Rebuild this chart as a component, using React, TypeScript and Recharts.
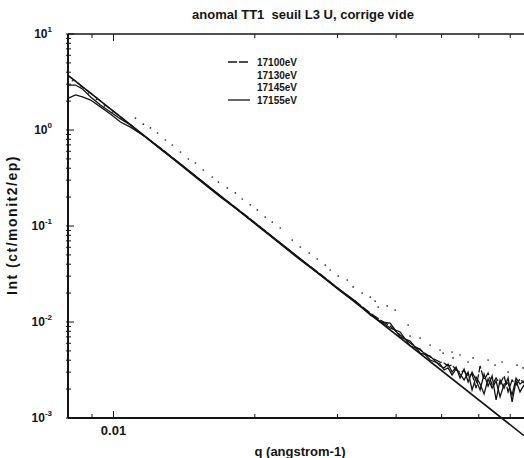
import React from "react";
import {
  ComposedChart,
  Line,
  Scatter,
  XAxis,
  YAxis,
  ReferenceLine,
} from "recharts";

// q grid shared by the three line series (angstrom-1)
const qGrid = [
  0.00802, 0.0083, 0.00859, 0.00894, 0.00938, 0.00985, 0.01035, 0.01087, 0.0117, 0.01259,
  0.01389, 0.01531, 0.01689, 0.01863, 0.02055, 0.02266, 0.025, 0.02757, 0.03041, 0.03273,
  0.03523, 0.037, 0.03885, 0.0408, 0.04284, 0.045, 0.04726, 0.04962,
  0.05061, 0.05161, 0.05264, 0.05368, 0.05474, 0.05583, 0.05694, 0.05806, 0.05921, 0.06039,
  0.06158, 0.0628, 0.06405, 0.06532, 0.06661, 0.06793, 0.06928, 0.07065, 0.07205, 0.07345,
  0.0749,
];

const i17100 = [
  3.65, 3.24, 2.8, 2.43, 2.0, 1.65, 1.37, 1.13, 0.845, 0.649,
  0.442, 0.301, 0.205, 0.143, 0.0976, 0.0665, 0.0453, 0.0316, 0.0215, 0.0165,
  0.0124, 0.0105, 0.00909, 0.00732, 0.00604, 0.00511, 0.00432, 0.00383,
  0.00374, 0.00348, 0.00356, 0.00316, 0.00301, 0.00309, 0.00274, 0.00287, 0.00205, 0.00348,
  0.00249, 0.00294, 0.00221, 0.00261, 0.00226, 0.00274, 0.00187, 0.00249, 0.00221, 0.00255,
  0.00232,
];

const i17145 = [
  2.94, 2.94, 2.67, 2.21, 1.82, 1.54, 1.3, 1.13, 0.845, 0.634,
  0.432, 0.294, 0.2, 0.14, 0.0953, 0.0649, 0.0442, 0.0309, 0.021, 0.0162,
  0.0121, 0.01, 0.00976, 0.00698, 0.00634, 0.00475, 0.00442, 0.00348,
  0.00332, 0.00365, 0.00301, 0.0034, 0.00261, 0.00324, 0.00237, 0.00301, 0.00249, 0.00196,
  0.00287, 0.00215, 0.00274, 0.00154, 0.00249, 0.00205, 0.00261, 0.00147, 0.00243, 0.00187,
  0.00221,
];

const i17155 = [
  2.15, 2.32, 2.21, 2.05, 1.74, 1.47, 1.21, 1.07, 0.845, 0.634,
  0.442, 0.301, 0.205, 0.14, 0.0953, 0.0665, 0.0453, 0.0309, 0.0215, 0.0165,
  0.0118, 0.0102, 0.00866, 0.00787, 0.00562, 0.00523, 0.00402, 0.00365,
  0.00316, 0.00332, 0.00281, 0.00324, 0.00287, 0.00249, 0.00301, 0.00196, 0.00267, 0.00226,
  0.00178, 0.00255, 0.00205, 0.00243, 0.00166, 0.00226, 0.00232, 0.00174, 0.00261, 0.00226,
  0.00243,
];

// 17130eV is plotted as dots
const q17130 = [
  0.00818, 0.00851, 0.00885, 0.0092, 0.00957, 0.00995, 0.01035, 0.01076, 0.01114, 0.01158,
  0.01199, 0.01241, 0.0129, 0.01335, 0.01389, 0.01444, 0.01495, 0.01554, 0.01624, 0.01673,
  0.01748, 0.01818, 0.01881, 0.01956, 0.02025, 0.02105, 0.02179, 0.02266, 0.02403, 0.025,
  0.02612, 0.02716, 0.02825, 0.02895, 0.03011, 0.03147, 0.0324, 0.03386, 0.03523, 0.03609,
  0.03663, 0.03828, 0.03981, 0.04243, 0.04284, 0.045, 0.04726, 0.04962, 0.05038, 0.05265,
  0.05288, 0.05474, 0.05694, 0.05834, 0.06039, 0.0628, 0.06499, 0.06725, 0.06928, 0.07239,
  0.07454,
];
const i17130 = [
  3.27, 2.8, 2.43, 2.08, 1.78, 1.54, 1.33, 1.18, 1.33, 1.15,
  1.05, 0.931, 0.787, 0.698, 0.59, 0.499, 0.453, 0.383, 0.324, 0.287,
  0.249, 0.221, 0.191, 0.166, 0.147, 0.124, 0.11, 0.0953, 0.0715, 0.0604,
  0.0523, 0.0453, 0.0392, 0.0348, 0.0301, 0.0274, 0.0232, 0.02, 0.0182, 0.0165,
  0.0143, 0.0147, 0.0133, 0.00931, 0.00715, 0.00681, 0.00576, 0.00511, 0.00475, 0.00487,
  0.00422, 0.00453, 0.00383, 0.00422, 0.0034, 0.00402, 0.00356, 0.00383, 0.00301, 0.00356,
  0.00332,
];

// straight power-law fit
const fitQ = [0.008, 0.0749];
const fitI = [3.71, 0.000654];

const xTicks = [0.009, 0.01, 0.02, 0.03, 0.04, 0.05, 0.06, 0.07];
const yDecades = [-3, -2, -1, 0];
const yTicks = [
  ...yDecades.flatMap((d) => [1, 2, 3, 4, 5, 6, 7, 8, 9].map((m) => m * Math.pow(10, d))),
  10,
];

const X_DOMAIN = [0.008, 0.0749];
const Y_DOMAIN = [Math.pow(10, -3.25), 10];
const PLOT_H = 408;
const DECADE = PLOT_H / 4.25;
const FRAME_GAP = DECADE * 0.25;
const INK = "#141414";
const FONT = '"Liberation Sans", Arial, Helvetica, sans-serif';

const toPoints = (qs: number[], is: number[]) => qs.map((q, k) => ({ q, I: is[k] }));

const series = [
  { name: "17100eV", data: toPoints(qGrid, i17100), kind: "line", dash: "9 2", sample: true },
  { name: "17130eV", data: toPoints(q17130, i17130), kind: "dots", dash: "", sample: false },
  { name: "17145eV", data: toPoints(qGrid, i17145), kind: "line", dash: "", sample: false },
  { name: "17155eV", data: toPoints(qGrid, i17155), kind: "line", dash: "", sample: true },
];

function YTick(props: any) {
  const { x, y, payload } = props;
  const v = payload.value;
  const lg = Math.log10(v);
  const exp = Math.round(lg);
  const major = Math.abs(lg - exp) < 1e-6;
  return (
    <g>
      <line x1={x - 2} x2={x + (major ? 6 : 3)} y1={y} y2={y} stroke={INK} strokeWidth={1} />
      {major && (
        <text
          x={x - 16}
          y={y + 4}
          textAnchor="end"
          fontFamily={FONT}
          fontWeight="bold"
          fontSize={12}
          fill={INK}
        >
          10
          <tspan dy={-6} fontSize={8}>
            {exp}
          </tspan>
        </text>
      )}
    </g>
  );
}

function XTick(props: any) {
  const { x, y, payload } = props;
  const base = y - FRAME_GAP;
  const top = base - DECADE * 4;
  const major = payload.value === 0.01;
  const len = major ? 7 : 4;
  return (
    <g>
      <line x1={x} x2={x} y1={base} y2={base - len} stroke={INK} strokeWidth={1} />
      <line x1={x} x2={x} y1={top} y2={top + len} stroke={INK} strokeWidth={1} />
      {major && (
        <text
          x={x}
          y={base + 17}
          textAnchor="middle"
          fontFamily={FONT}
          fontWeight="bold"
          fontSize={13}
          fill={INK}
        >
          0.01
        </text>
      )}
    </g>
  );
}

const Dot = (p: any) => <circle cx={p.cx} cy={p.cy} r={0.85} fill="#2a2a2a" />;

export default function App() {
  return (
    <div
      style={{
        position: "absolute",
        left: 0,
        top: 0,
        width: 524,
        height: 458,
        background: "#fff",
        fontFamily: FONT,
        color: INK,
        overflow: "hidden",
      }}
    >
      <ComposedChart width={524} height={458} margin={{ top: 34, right: 0, bottom: 0, left: 0 }}>
        <XAxis
          dataKey="q"
          type="number"
          scale="log"
          domain={X_DOMAIN}
          allowDataOverflow
          ticks={xTicks}
          interval={0}
          tickSize={0}
          tickMargin={0}
          axisLine={false}
          tickLine={false}
          height={16}
          tick={<XTick />}
        />
        <YAxis
          dataKey="I"
          type="number"
          scale="log"
          domain={Y_DOMAIN}
          allowDataOverflow
          ticks={yTicks}
          interval={0}
          tickSize={0}
          tickMargin={0}
          axisLine={false}
          tickLine={false}
          width={68}
          tick={<YTick />}
        />
        <ReferenceLine y={10} stroke={INK} strokeWidth={1.5} ifOverflow="visible" />
        <ReferenceLine y={0.001} stroke={INK} strokeWidth={2} ifOverflow="visible" />
        <ReferenceLine
          segment={[
            { x: X_DOMAIN[0], y: 0.001 },
            { x: X_DOMAIN[0], y: 10 },
          ]}
          stroke={INK}
          strokeWidth={2}
          ifOverflow="visible"
        />
        <Line
          data={toPoints(fitQ, fitI)}
          dataKey="I"
          stroke={INK}
          strokeWidth={1.6}
          dot={false}
          isAnimationActive={false}
        />
        {series.map((s) =>
          s.kind === "dots" ? (
            <Scatter key={s.name} name={s.name} data={s.data} shape={Dot} isAnimationActive={false} />
          ) : (
            <Line
              key={s.name}
              name={s.name}
              data={s.data}
              dataKey="I"
              stroke={INK}
              strokeWidth={1.3}
              strokeDasharray={s.dash || undefined}
              dot={false}
              isAnimationActive={false}
            />
          )
        )}
      </ComposedChart>

      <div
        style={{
          position: "absolute",
          left: 153,
          top: 8,
          width: 300,
          textAlign: "center",
          fontSize: 13,
          fontWeight: "bold",
          lineHeight: "14px",
          whiteSpace: "pre",
        }}
      >
        anomal TT1  seuil L3 U, corrige vide
      </div>

      <div
        style={{
          position: "absolute",
          left: 200,
          top: 445,
          width: 200,
          textAlign: "center",
          fontSize: 13,
          fontWeight: "bold",
          lineHeight: "14px",
        }}
      >
        q (angstrom-1)
      </div>

      <div
        style={{
          position: "absolute",
          left: 12 - 100,
          top: 225 - 8,
          width: 200,
          height: 16,
          lineHeight: "16px",
          textAlign: "center",
          fontSize: 14,
          fontWeight: "bold",
          letterSpacing: 1.5,
          transform: "rotate(-90deg)",
        }}
      >
        Int (ct/monit2/ep)
      </div>

      {series.map((s, k) => (
        <div
          key={s.name}
          style={{
            position: "absolute",
            left: 228,
            top: 56 + k * 12.7,
            height: 12.7,
            display: "flex",
            alignItems: "center",
            fontSize: 10,
            fontWeight: "bold",
          }}
        >
          <svg width={29} height={12}>
            {s.sample && (
              <line
                x1={0}
                x2={22}
                y1={6}
                y2={6}
                stroke={INK}
                strokeWidth={1.3}
                strokeDasharray={s.dash || undefined}
              />
            )}
          </svg>
          <span>{s.name}</span>
        </div>
      ))}
    </div>
  );
}
